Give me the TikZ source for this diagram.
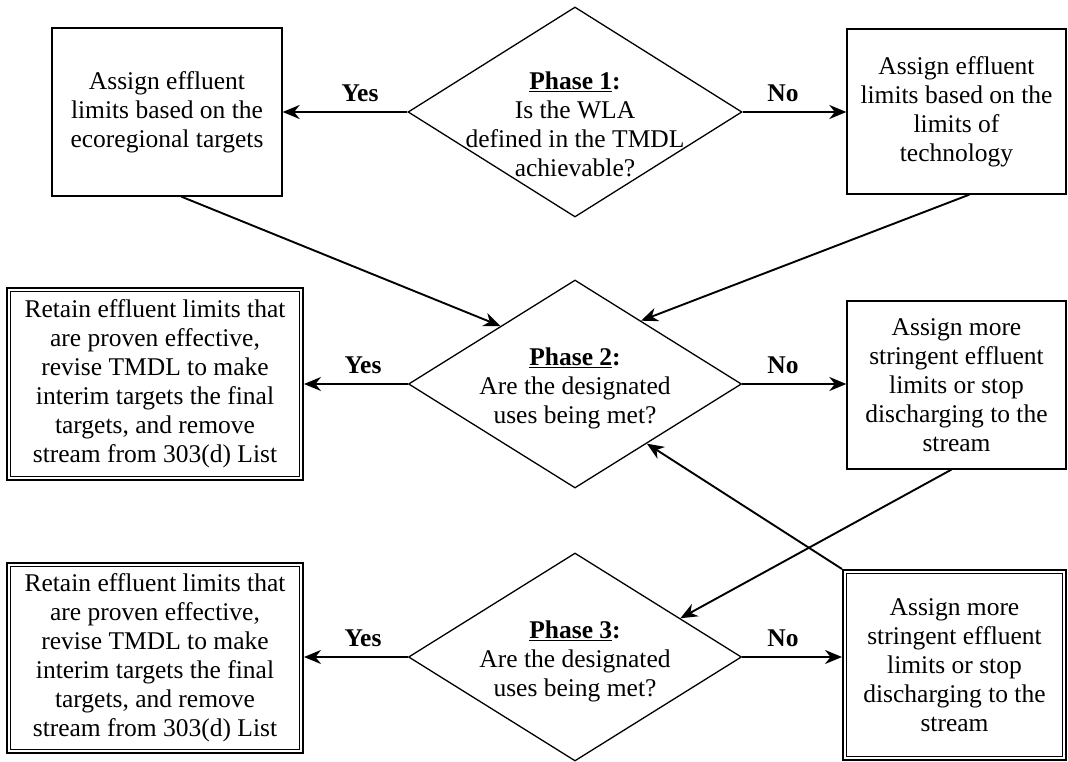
\documentclass[tikz,border=0pt]{standalone}
\usepackage{fontspec}
\setmainfont{Liberation Serif}
\usetikzlibrary{shapes.geometric,arrows.meta,calc}
\begin{document}
\begin{tikzpicture}[x=1pt,y=-1pt,
  every node/.style={font=\fontsize{25.5}{29}\selectfont},
  plainbox/.style={draw,line width=1.3pt,inner sep=0pt,align=center},
  dblbox/.style={draw,line width=2pt,inner sep=0pt,align=center},
  decision/.style={diamond,draw,line width=1.3pt,inner sep=0pt},
  dectext/.style={align=center,inner sep=0pt},
  flow/.style={line width=1.9pt,-{Stealth[length=17pt,width=14pt,inset=5.5pt]}},
  lbl/.style={font=\fontsize{25.5}{29}\selectfont\bfseries,inner sep=0pt}
]
\useasboundingbox (0,0) rectangle (1068,762);

% Phase 1
\node[decision,minimum width=334pt,minimum height=210pt] (p1) at (575,112) {};
\node[dectext] (t1) at (575,124) {\textbf{\underline{Phase 1}:}\\Is the WLA\\defined in the TMDL\\achievable?};
\node[plainbox,minimum width=230pt,minimum height=168pt] (a1) at (167,112) {Assign effluent\\limits based on the\\ecoregional targets};
\node[plainbox,minimum width=219pt,minimum height=165pt] (b1) at (956.5,111.5) {Assign effluent\\limits based on the\\limits of\\technology};

% Phase 2
\node[decision,minimum width=333pt,minimum height=208pt] (p2) at (575,384) {};
\node[dectext] (t2) at (575,388) {\textbf{\underline{Phase 2}:}\\Are the designated\\uses being met?};
\node[dblbox,minimum width=296pt,minimum height=192pt] (r2) at (155,384) {Retain effluent limits that\\are proven effective,\\revise TMDL to make\\interim targets the final\\targets, and remove\\stream from 303(d) List};
\node[plainbox,minimum width=219pt,minimum height=168pt] (b2) at (956.5,385) {Assign more\\stringent effluent\\limits or stop\\discharging to the\\stream};

% Phase 3
\node[decision,minimum width=333pt,minimum height=208pt] (p3) at (575,657) {};
\node[dectext] (t3) at (575,661) {\textbf{\underline{Phase 3}:}\\Are the designated\\uses being met?};
\node[dblbox,minimum width=296pt,minimum height=190pt] (r3) at (155,658) {Retain effluent limits that\\are proven effective,\\revise TMDL to make\\interim targets the final\\targets, and remove\\stream from 303(d) List};
\node[dblbox,minimum width=223pt,minimum height=190pt] (b3) at (954.5,665) {Assign more\\stringent effluent\\limits or stop\\discharging to the\\stream};

% inner lines of the double frames
\foreach \n in {r2,r3,b3}{
  \draw[line width=1pt] ([shift={(4.5pt,-4.5pt)}]\n.north west) rectangle ([shift={(-4.5pt,4.5pt)}]\n.south east);
}

% Yes / No connectors
\draw[flow] (p1.west) -- (p1.west -| a1.east);
\draw[flow] (p1.east) -- (p1.east -| b1.west);
\draw[flow] (p2.west) -- (p2.west -| r2.east);
\draw[flow] (p2.east) -- (p2.east -| b2.west);
\draw[flow] (p3.west) -- (p3.west -| r3.east);
\draw[flow] (p3.east) -- (p3.east -| b3.west);

\node[lbl] (y1) at (360,93) {Yes};
\node[lbl] (n1) at (783,93) {No};
\node[lbl] (y2) at (363,365) {Yes};
\node[lbl] (n2) at (783,365) {No};
\node[lbl] (y3) at (363,638) {Yes};
\node[lbl] (n3) at (783,638) {No};

% diagonal connectors
\draw[flow] ([xshift=130pt]a1.south west) -- ($(p2.north)!0.446!(p2.west)$);
\draw[flow] ([xshift=123pt]b1.south west) -- ($(p2.north)!0.395!(p2.east)$);
\draw[flow] ([xshift=105pt]b2.south west) -- ($(p3.north)!0.63!(p3.east)$);
\draw[flow] (b3.north west) -- ($(p2.east)!0.57!(p2.south)$);
\end{tikzpicture}
\end{document}
